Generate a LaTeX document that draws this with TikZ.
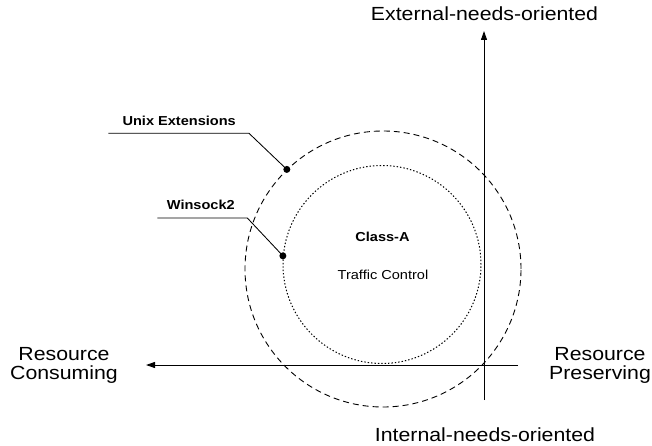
\documentclass[tikz,border=0pt]{standalone}
\usepackage{fontspec}
\setmainfont{Liberation Sans}[FakeStretch=1.12]
\usetikzlibrary{arrows.meta}
\begin{document}
\begin{tikzpicture}[x=1pt,y=-1pt,
  axis/.style={line width=0.95pt},
  axistip/.style={-{Triangle[length=9pt,width=6pt]}},
  biglabel/.style={font=\fontsize{19}{19.5}\selectfont, inner sep=0pt, align=center},
  smalllabel/.style={font=\fontsize{13}{15}\selectfont, inner sep=0pt},
  boldlabel/.style={font=\bfseries\fontsize{13}{15}\selectfont, inner sep=0pt},
  leader/.style={line width=0.85pt},
  leaderdot/.style={circle, fill=black, minimum size=7pt, inner sep=0pt},
  outerring/.style={draw, circle, dash pattern=on 6pt off 4pt, line width=0.9pt, minimum size=276pt, inner sep=0pt},
  innerring/.style={draw, circle, dash pattern=on 1.4pt off 2pt, line width=1pt, minimum size=198pt, inner sep=0pt}]
\useasboundingbox (0,0) rectangle (652,446);

% rings
\node[outerring] (outer) at (383,269) {};
\node[innerring] (inner) at (382,264.5) {};

% axes
\coordinate (hR) at (518,365);
\coordinate (hL) at (146,365);
\coordinate (vB) at (484,400);
\coordinate (vT) at (484,31);
\draw[axis,axistip] (hR) -- (hL);
\draw[axis,axistip] (vB) -- (vT);

% axis labels
\node[biglabel, anchor=base] (ext) at (484.5,20.7) {External-needs-oriented};
\node[biglabel, anchor=base] (int) at (485,441) {Internal-needs-oriented};
\node[biglabel, anchor=north] (rc) at (64,347.2) {Resource\\Consuming};
\node[biglabel, anchor=north] (rp) at (600,347.2) {Resource\\Preserving};

% centre labels
\node[boldlabel, anchor=base] (cls) at (382.5,241.7) {Class-A};
\node[smalllabel, anchor=base] (tc) at (383,279.5) {Traffic Control};

% leader labels
\node[boldlabel, anchor=base] (unix) at (179.2,126) {Unix Extensions};
\node[boldlabel, anchor=base] (wins) at (200.8,210) {Winsock2};

% leader dots
\node[leaderdot] (udot) at (outer.134.7) {};
\node[leaderdot] (wdot) at (inner.175.4) {};

% leader lines
\coordinate (ustart) at (108.3,133.3);
\coordinate (ubend) at (249,133.3);
\coordinate (wstart) at (157.3,218);
\coordinate (wbend) at (247.3,218);
\draw[leader] (ustart) -- (ubend) -- (udot.center);
\draw[leader] (wstart) -- (wbend) -- (wdot.center);
\end{tikzpicture}
\end{document}
